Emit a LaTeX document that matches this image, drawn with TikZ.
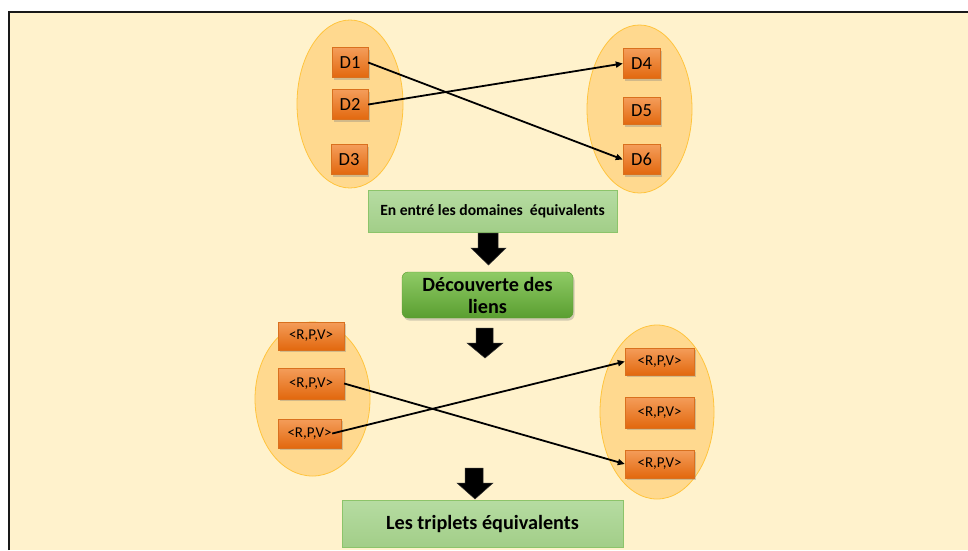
\documentclass[tikz,border=0pt]{standalone}
\usepackage{fontspec}
\setmainfont{Carlito}
\usetikzlibrary{shapes.geometric,arrows.meta,shadows}
\definecolor{cream}{HTML}{FFF2CC}
\definecolor{ellfill}{HTML}{FFD98F}
\definecolor{ellline}{HTML}{FFC43D}
\definecolor{orgtop}{HTML}{F49D5A}
\definecolor{orgbot}{HTML}{E2680E}
\definecolor{orgline}{HTML}{D9701E}
\definecolor{lgtop}{HTML}{B6DCA2}
\definecolor{lgbot}{HTML}{A2CE88}
\definecolor{lgline}{HTML}{8CC46A}
\definecolor{dgtop}{HTML}{8FCB66}
\definecolor{dgbot}{HTML}{5A9E30}
\tikzset{
  group/.style={ellipse, draw=ellline, line width=0.8pt, fill=ellfill, inner sep=0pt},
  dombox/.style={rectangle, top color=orgtop, bottom color=orgbot, draw=orgline, line width=0.4pt,
    inner sep=0pt, minimum width=36pt, minimum height=30pt, font=\fontsize{18.5}{21}\selectfont,
    drop shadow={shadow xshift=1.5pt, shadow yshift=-2pt, opacity=0.35}},
  tripbox/.style={dombox, minimum width=67pt, font=\fontsize{15}{17}\selectfont},
  lightgreen/.style={rectangle, top color=lgtop, bottom color=lgbot, draw=lgline, line width=0.6pt,
    inner sep=0pt, font=\bfseries},
  darkgreen/.style={rectangle, rounded corners=6pt, top color=dgtop, bottom color=dgbot, draw=dgbot,
    line width=0.4pt, inner sep=0pt, align=center, font=\bfseries\fontsize{20.2}{22}\selectfont,
    drop shadow={shadow xshift=1.5pt, shadow yshift=-2.5pt, opacity=0.35}},
  link/.style={draw=black, line width=1.8pt, -{Triangle[length=7pt,width=6pt]}},
  blockarrow/.style={fill=black, draw=black!80, line width=0.5pt}
}
\begin{document}
\begin{tikzpicture}[x=1pt, y=-1pt]
  \useasboundingbox (0,0) rectangle (968,550);
  % page background and frame
  \fill[white] (0,0) rectangle (968,550);
  \fill[cream] (9,12) rectangle (968,550);
  \draw[line width=1.8pt, black!90] (8.6,550) -- (8.6,11.6) -- (968,11.6);

  % first pair of domain groups
  \node[group, minimum width=106pt, minimum height=168pt] (gA) at (350,104) {};
  \node[group, minimum width=105pt, minimum height=168pt] (gB) at (639.5,109) {};
  \node[dombox] (d1) at (350,62.5) {D1};
  \node[dombox] (d2) at (350,104.5) {D2};
  \node[dombox] (d3) at (349,159.5) {D3};
  \node[dombox, minimum width=37pt] (d4) at (641.5,63.5) {D4};
  \node[dombox, minimum width=37pt, minimum height=27pt] (d5) at (641.5,111) {D5};
  \node[dombox, minimum width=37pt] (d6) at (641.5,159.5) {D6};
  \draw[link] (d1.east) -- (d6.west);
  \draw[link] (d2.east) -- (d4.west);

  % processing steps
  \node[lightgreen, minimum width=249pt, minimum height=42pt, font=\bfseries\fontsize{15.6}{18}\selectfont]
    (inp) at (492.5,211) {En entré les domaines\ \ équivalents};
  \node[darkgreen, minimum width=171pt, minimum height=46pt] (disc) at (487.5,295)
    {Découverte des\\liens};
  \node[lightgreen, minimum width=281pt, minimum height=47pt, font=\bfseries\fontsize{20.2}{22}\selectfont]
    (outp) at (482.5,523.5) {Les triplets équivalents};

  % block arrows between steps
  \path[blockarrow] (478,233) -- (498,233) -- (498,248) -- (506,248) -- (488.5,265)
    -- (471,248) -- (478,248) -- cycle;
  \path[blockarrow] (476,328) -- (493,328) -- (493,343) -- (503,343) -- (485,358)
    -- (467,343) -- (476,343) -- cycle;
  \path[blockarrow] (465,468) -- (483,468) -- (483,483) -- (493,483) -- (475,499)
    -- (457,483) -- (465,483) -- cycle;

  % second pair of triplet groups
  \node[group, minimum width=115pt, minimum height=154pt] (gC) at (312.5,399) {};
  \node[group, minimum width=114pt, minimum height=174pt] (gD) at (657,412) {};
  \node[tripbox, minimum width=66pt, minimum height=28pt] (l1) at (311,336) {<R,P,V>};
  \node[tripbox, minimum width=66pt, minimum height=31pt] (l2) at (311,383.5) {<R,P,V>};
  \node[tripbox, minimum width=63pt, minimum height=29pt] (l3) at (309.5,433.5) {<R,P,V>};
  \node[tripbox, minimum width=69pt, minimum height=27pt] (r1) at (659.5,361.5) {<R,P,V>};
  \node[tripbox, minimum width=69pt, minimum height=31pt] (r2) at (659.5,412.5) {<R,P,V>};
  \node[tripbox, minimum width=69pt, minimum height=28pt] (r3) at (659.5,464) {<R,P,V>};
  \draw[link] (l2.east) -- (r3.west);
  \draw[link] ([xshift=-9pt]l3.east) -- (r1.west);
\end{tikzpicture}
\end{document}
